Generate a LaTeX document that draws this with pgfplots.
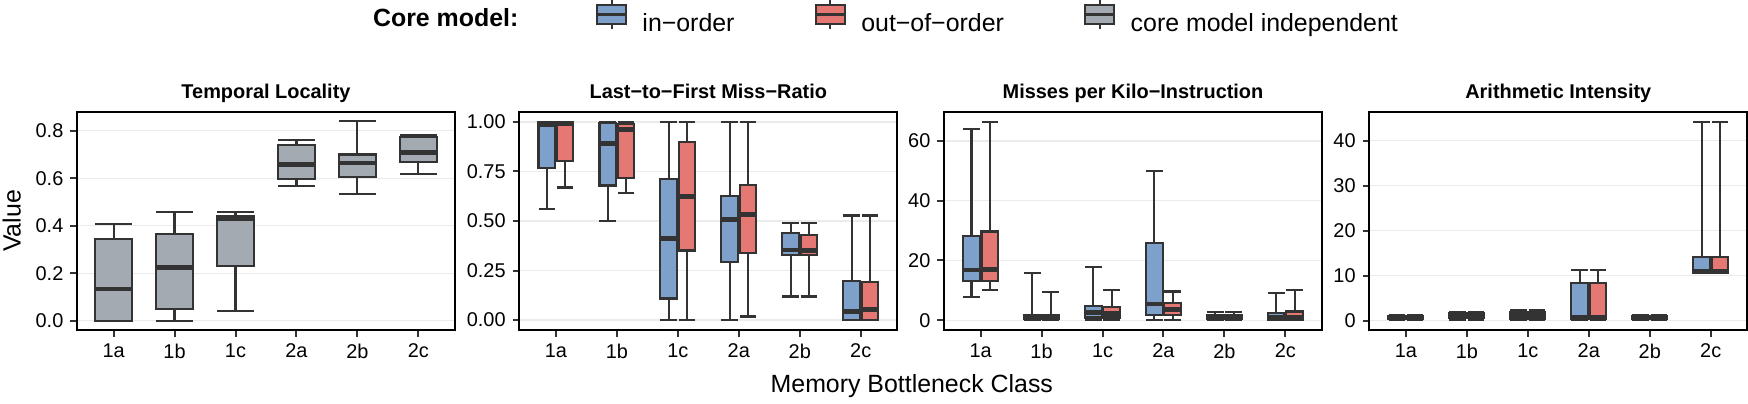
\documentclass[border=0pt]{standalone}
\usepackage{fontspec}
\setmainfont{Liberation Sans}
\usepackage{pgfplots}
\usepackage{pgfplotstable}
\pgfplotsset{compat=1.18}
\usepgfplotslibrary{statistics}

\definecolor{cblue}{RGB}{125,161,203}
\definecolor{cred}{RGB}{229,120,114}
\definecolor{cgray}{RGB}{163,170,177}
\definecolor{boxc}{RGB}{51,51,51}
\definecolor{gridc}{RGB}{235,235,235}

% Temporal Locality (core model independent)
\pgfplotstableread{
lw lq med uq uw
0 0 0.133 0.344 0.406
0 0.048 0.223 0.364 0.456
0.039 0.232 0.429 0.442 0.456
0.568 0.596 0.658 0.740 0.761
0.533 0.606 0.664 0.700 0.839
0.616 0.667 0.707 0.773 0.780
}\tTL
% Last-to-First Miss-Ratio
\pgfplotstableread{
lw lq med uq uw
0.560 0.769 0.985 1.000 1.000
0.500 0.679 0.890 0.995 1.000
0 0.109 0.411 0.711 1.000
0 0.293 0.507 0.627 1.000
0.119 0.329 0.353 0.440 0.490
0 0 0.043 0.199 0.528
}\tLFin
\pgfplotstableread{
lw lq med uq uw
0.669 0.801 0.990 1.000 1.000
0.640 0.719 0.963 0.988 1.000
0 0.351 0.622 0.898 1.000
0.018 0.339 0.532 0.681 1.000
0.119 0.329 0.351 0.430 0.490
0 0 0.052 0.191 0.528
}\tLFout
% Misses per Kilo-Instruction
\pgfplotstableread{
lw lq med uq uw
7.7 13.0 16.8 28.2 63.9
0 0.3 1.0 1.8 15.8
0 0.9 2.6 4.6 17.8
0 1.8 5.4 25.8 49.8
0 0.3 0.9 1.7 2.6
0 0.1 0.9 2.3 9.0
}\tMKin
\pgfplotstableread{
lw lq med uq uw
10.2 13.0 16.9 29.7 66.4
0 0.3 0.9 1.6 9.4
0 0.9 2.2 4.3 10.0
0 1.6 3.6 5.8 9.6
0 0.3 0.9 1.7 2.6
0 0.2 1.0 2.9 10.0
}\tMKout
% Arithmetic Intensity
\pgfplotstableread{
lw lq med uq uw
0.1 0.3 0.65 1.1 1.3
0.2 0.5 1.2 1.7 2.0
0.1 0.4 1.2 2.0 2.4
0.1 0.4 0.8 8.4 11.2
0.2 0.45 0.7 0.95 1.2
10.5 10.6 11.0 14.1 44.2
}\tAIin
\pgfplotstableread{
lw lq med uq uw
0.1 0.3 0.65 1.1 1.3
0.2 0.5 1.2 1.7 2.0
0.1 0.4 1.2 2.0 2.4
0.1 0.4 0.8 8.4 11.2
0.2 0.45 0.7 0.95 1.2
10.5 10.6 11.0 14.1 44.2
}\tAIout

% #1 table, #2 row, #3 fill, #4 draw position, #5 box width
\newcommand\bxp[5]{%
  \pgfplotstablegetelem{#2}{lw}\of#1\edef\vlw{\pgfplotsretval}%
  \pgfplotstablegetelem{#2}{lq}\of#1\edef\vlq{\pgfplotsretval}%
  \pgfplotstablegetelem{#2}{med}\of#1\edef\vmed{\pgfplotsretval}%
  \pgfplotstablegetelem{#2}{uq}\of#1\edef\vuq{\pgfplotsretval}%
  \pgfplotstablegetelem{#2}{uw}\of#1\edef\vuw{\pgfplotsretval}%
  \edef\tmpbx{\noexpand\addplot[forget plot, fill=#3, draw=boxc,
    line width=1.05pt,
    boxplot prepared={draw position=#4, lower whisker=\vlw,
      lower quartile=\vlq, median=\vmed, upper quartile=\vuq,
      upper whisker=\vuw, box extend=#5, whisker extend=#5}]
    coordinates {};}%
  \tmpbx}

\pgfplotsset{
  panel/.style={
    scale only axis, width=189pt, height=109pt,
    anchor=south west,
    axis line style={black, line width=1.1pt},
    xmin=0.4, xmax=6.6, xtick={1,2,3,4,5,6},
    xticklabels={1a,1b,1c,2a,2b,2c},
    tick align=outside, tick pos=left, major tick length=3.3pt,
    tick style={boxc, line width=1pt},
    ymajorgrids, grid style={gridc, line width=0.65pt},
    tick label style={font=\fontsize{9.96}{12}\selectfont, text=black},
    /pgf/number format/assume math mode=true,
    scaled y ticks=false,
    title style={at={(0.5,1)}, anchor=base, yshift=0.85pt,
      font=\fontsize{9.96}{12}\selectfont\bfseries},
    boxplot/draw direction=y,
    boxplot/every box/.style={draw=boxc, line width=1.05pt},
    boxplot/every whisker/.style={draw=boxc, line width=1.05pt},
    boxplot/every median/.style={draw=boxc, line width=2.35pt},
  },
  boxlegend/.style={legend image code/.code={
      \draw[boxc, line width=1pt] (7.25pt,-2.5pt) -- (7.25pt,12.5pt);
      \draw[##1, draw=boxc, line width=1pt] (0pt,0.3pt) rectangle (14.5pt,9.7pt);
      \draw[boxc, line width=1.4pt] (0pt,5pt) -- (14.5pt,5pt);
  }},
}

\begin{document}
\begin{tikzpicture}
\useasboundingbox (0,0) rectangle (874pt,201.5pt);

% Panel 1
\begin{axis}[panel, at={(38.5pt,36.5pt)},
  ymin=-0.0392, ymax=0.8787, ytick={0,0.2,0.4,0.6,0.8},
  yticklabel style={/pgf/number format/.cd, fixed, fixed zerofill, precision=1},
  title={Temporal Locality},
  ylabel={Value},
  ylabel style={at={(axis description cs:-0.1489,0.5)}, anchor=base,
    font=\fontsize{12.45}{14}\selectfont},
  legend columns=3, legend cell align=left,
  legend style={draw=none, fill=none, inner sep=0pt, outer sep=0pt,
    at={(1.3722,1.4376)}, anchor=west,
    font=\fontsize{12.45}{14}\selectfont,
    nodes={inner sep=0pt},
    /tikz/every odd column/.append style={column sep=7.5pt},
    /tikz/every even column/.append style={column sep=40pt}},
]
\pgfplotsinvokeforeach{0,...,5}{\bxp{\tTL}{#1}{cgray}{#1+1}{0.6}}
\addlegendimage{boxlegend, fill=cblue}\addlegendentry{in−order}
\addlegendimage{boxlegend, fill=cred}\addlegendentry{out−of−order}
\addlegendimage{boxlegend, fill=cgray}\addlegendentry{core model independent}
\end{axis}

% Panel 2
\begin{axis}[panel, at={(259.65pt,36.5pt)},
  ymin=-0.05, ymax=1.05, ytick={0,0.25,0.5,0.75,1},
  yticklabel style={/pgf/number format/.cd, fixed, fixed zerofill, precision=2},
  title={Last−to−First Miss−Ratio},
]
\pgfplotsinvokeforeach{0,...,5}{
  \bxp{\tLFin}{#1}{cblue}{#1+0.85}{0.27}
  \bxp{\tLFout}{#1}{cred}{#1+1.15}{0.27}
}
\end{axis}

% Panel 3
\begin{axis}[panel, at={(472pt,36.5pt)},
  ymin=-3.3, ymax=69.7, ytick={0,20,40,60},
  title={Misses per Kilo−Instruction},
]
\pgfplotsinvokeforeach{0,...,5}{
  \bxp{\tMKin}{#1}{cblue}{#1+0.85}{0.27}
  \bxp{\tMKout}{#1}{cred}{#1+1.15}{0.27}
}
\end{axis}

% Panel 4
\begin{axis}[panel, at={(684.65pt,36.5pt)},
  ymin=-2.1, ymax=46.4, ytick={0,10,20,30,40},
  title={Arithmetic Intensity},
]
\pgfplotsinvokeforeach{0,...,5}{
  \bxp{\tAIin}{#1}{cblue}{#1+0.85}{0.27}
  \bxp{\tAIout}{#1}{cred}{#1+1.15}{0.27}
}
\end{axis}

\node[anchor=base west, inner sep=0pt, font=\fontsize{12.45}{14}\selectfont\bfseries]
  at (186.35pt,188.2pt) {Core model:};
\node[anchor=base, inner sep=0pt, font=\fontsize{12.45}{14}\selectfont]
  at (455.9pt,5.35pt) {Memory Bottleneck Class};
\end{tikzpicture}
\end{document}
